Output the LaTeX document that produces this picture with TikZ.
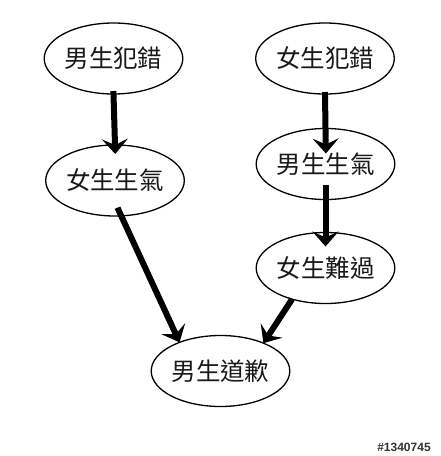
\documentclass[tikz,border=0pt]{standalone}
\usepackage{fontspec}
\newfontfamily\cjk{Noto Sans CJK TC}
\newfontfamily\wmfont{Liberation Sans}
\usetikzlibrary{shapes.geometric,arrows.meta}
\tikzset{
  bubble/.style={ellipse, draw=black, line width=1.3pt, fill=white,
    minimum width=116pt, minimum height=71pt, inner sep=0pt, outer sep=0pt,
    font=\cjk\fontsize{24.5}{25}\selectfont, text=black!90},
  flow/.style={line width=6pt, draw=black,
    -{Stealth[length=15pt, width=26pt, inset=6pt]}}
}
\begin{document}
\begin{tikzpicture}[x=1pt, y=-1pt]
  \useasboundingbox[fill=white] (0,0) rectangle (440,456);
  \node[bubble] (nfc) at (113.5,58.5) {男生犯錯};
  \node[bubble] (wfc) at (325,58.5) {女生犯錯};
  \node[bubble] (wsq) at (115,180.5) {女生生氣};
  \node[bubble] (nsq) at (325.5,164) {男生生氣};
  \node[bubble] (wng) at (325.5,268) {女生難過};
  \node[bubble] (nqq) at (220.5,371) {男生道歉};

  \draw[flow, shorten <=-3pt, shorten >=-9pt] (nfc.south) -- (wsq.north);
  \draw[flow, shorten <=-2pt, shorten >=-25pt] (wfc.south) -- (nsq.north);
  \draw[flow, shorten <=-15pt, shorten >=-14pt] (nsq.south) -- (wng.north);
  \draw[flow, shorten <=-9pt] (wsq.-80) -- (nqq.145);
  \draw[flow] (wng.223) -- (nqq.33);

  \node[font=\wmfont\bfseries\fontsize{12}{12}\selectfont, text=black!80] (wm) at (404,447) {\#1340745};
\end{tikzpicture}
\end{document}
